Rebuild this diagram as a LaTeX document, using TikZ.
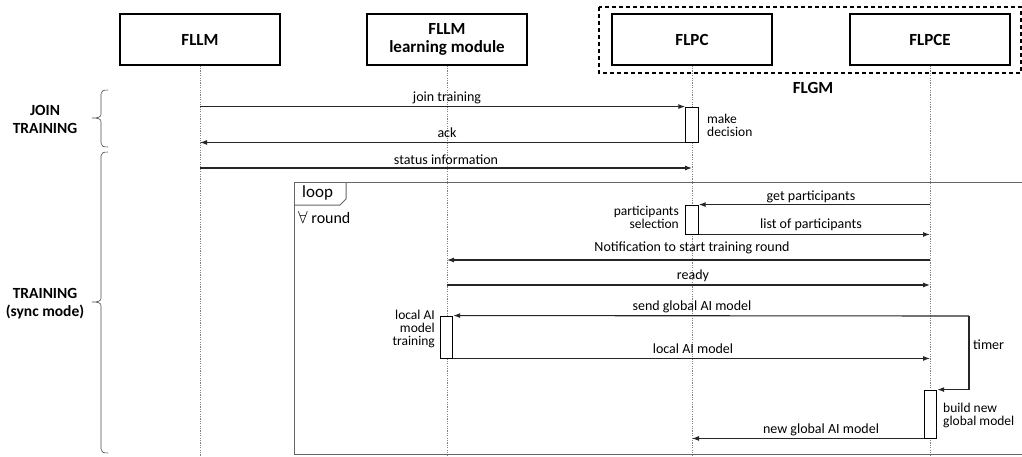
\documentclass[tikz,border=0pt]{standalone}
\usepackage{fontspec}
\setmainfont{Carlito}
\usetikzlibrary{arrows.meta}

\begin{document}
\begin{tikzpicture}[x=1pt,y=-1pt,
  actor/.style={draw=black, line width=1.1pt, minimum width=160pt, minimum height=51pt,
    inner sep=0pt, align=center, font=\bfseries\fontsize{17}{18.5}\selectfont},
  lifeline/.style={draw=gray, line width=0.6pt, dash pattern=on 1.2pt off 1.2pt},
  activation/.style={draw=black, line width=0.9pt, fill=white, minimum width=12.5pt, inner sep=0pt},
  msg/.style={draw=black!85, line width=1.1pt, -{Latex[length=7pt,width=5pt]}},
  lbl/.style={inner sep=0pt, font=\fontsize{14}{14}\selectfont},
  note/.style={inner sep=0pt, font=\fontsize{13.5}{13}\selectfont},
  phase/.style={inner sep=0pt, align=center, font=\bfseries\fontsize{15.5}{18}\selectfont},
  phasebrace/.style={draw=black!70, line width=0.6pt},
  frame/.style={draw=black!60, line width=1pt},
]
\useasboundingbox (0,0) rectangle (1022,456);

% participants
\node[actor] (fllm)  at (200,39.5) {FLLM};
\node[actor] (lm)    at (447,39.5) {FLLM\\learning module};
\node[actor] (flpc)  at (692,39.5) {FLPC};
\node[actor] (flpce) at (930,39.5) {FLPCE};

% FLGM group around FLPC and FLPCE
\draw[line width=1.1pt, dash pattern=on 4pt off 3pt] (599,7) rectangle (1021,73);
\node[inner sep=0pt, font=\bfseries\fontsize{17}{18}\selectfont] (flgm) at (813,88) {FLGM};

% lifelines
\coordinate (bottom) at (0,456);
\draw[lifeline] (fllm.south)  -- (fllm |- bottom);
\draw[lifeline] (lm.south)    -- (lm |- bottom);
\draw[lifeline] (flpc.south)  -- (flpc |- bottom);
\draw[lifeline] (flpce.south) -- (flpce |- bottom);

% phase braces: flat brackets with a small point towards the labels
\draw[phasebrace] (108,90) .. controls (103,90) and (101,91) .. (101,94) -- (101,114)
  .. controls (101,117) and (99,118) .. (92,118)
  .. controls (99,118) and (101,119) .. (101,122) -- (101,143)
  .. controls (101,146) and (103,147) .. (108,147);
\draw[phasebrace] (108,152) .. controls (103,152) and (101,153) .. (101,156) -- (101,298)
  .. controls (101,301) and (99,302) .. (92,302)
  .. controls (99,302) and (101,303) .. (101,306) -- (101,449)
  .. controls (101,452) and (103,453) .. (108,453);
\node[phase] (join)  at (45,119) {JOIN\\TRAINING};
\node[phase] (train) at (45,304) {TRAINING\\(sync mode)};

% loop frame
\draw[frame] (1022,182) -- (294,182) -- (294,454) -- (1022,454);
\draw[frame] (294,205) -- (340,205) -- (346,199) -- (346,182);
\node[anchor=west, inner sep=0pt, font=\fontsize{17}{18}\selectfont] (loop) at (302,193) {loop};
\node[anchor=west, inner sep=0pt, font=\fontsize{16}{18}\selectfont] (round) at (298,218) {$\forall$ round};

% activation bars
\node[activation, minimum height=35pt] (a1) at (692,124.5) {};
\node[activation, minimum height=29pt] (a2) at (692,219.5) {};
\node[activation, minimum height=42pt] (a3) at (446.5,337) {};
\node[activation, minimum height=48pt] (a4) at (930.5,414) {};

% message rows without activation bars
\coordinate (st) at (0,168);
\coordinate (nt) at (0,260);
\coordinate (rd) at (0,285);
\coordinate (tmr) at (969,316);

% join phase
\draw[msg] (fllm |- a1.north west) -- (a1.north west);
\node[lbl] (l1) at (447,98) {join training};
\node[note, anchor=west, align=left] (l2) at (707,125) {make\\decision};
\draw[msg] (a1.south west) -- (fllm |- a1.south west);
\node[lbl] (l3) at (447,133) {ack};
\draw[msg] (fllm |- st) -- (flpc |- st);
\node[lbl] (l4) at (446,160) {status information};

% training loop
\draw[msg] (flpce |- a2.north east) -- (a2.north east);
\node[lbl] (l5) at (811,197) {get participants};
\node[note, anchor=east, align=right] (l6) at (679,217) {participants\\selection};
\draw[msg] (a2.south east) -- (flpce |- a2.south east);
\node[lbl] (l7) at (811,225) {list of participants};

\draw[msg] (flpce |- nt) -- (lm |- nt);
\node[lbl] (l8) at (692,248) {Notification to start training round};
\draw[msg] (lm |- rd) -- (flpce |- rd);
\node[lbl] (l9) at (693,276) {ready};

\draw[msg] (tmr) -- (a3.north east);
\node[lbl] (l10) at (692,307) {send global AI model};
\node[note, anchor=east, align=right] (l11) at (435,329) {local AI\\model\\training};
\draw[msg] (tmr) -- (tmr |- a4.north east) -- (a4.north east);
\node[lbl, anchor=west] (l12) at (973,345) {timer};
\draw[msg] (a3.south east) -- (flpce |- a3.south east);
\node[lbl] (l13) at (693,349) {local AI model};

\node[note, anchor=west, align=left] (l14) at (943,415) {build new\\global model};
\draw[msg] (a4.south west) -- (flpc |- a4.south west);
\node[lbl] (l15) at (821,430) {new global AI model};
\end{tikzpicture}
\end{document}
